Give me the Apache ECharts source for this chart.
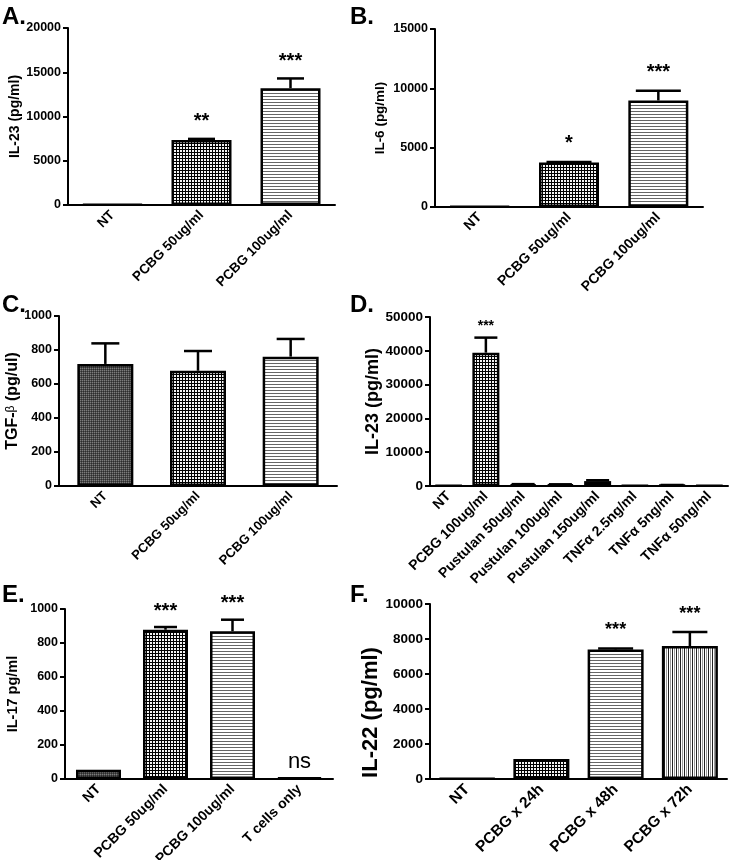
<!DOCTYPE html>
<html lang="en">
<head>
<meta charset="UTF-8">
<title>Cytokine panels A-F</title>
<style>
  * { margin: 0; padding: 0; box-sizing: border-box; }
  body { background: #fff; }
  #chart { width: 730px; height: 860px; }
</style>
</head>
<body>
<div id="chart"></div>
<script src="https://cdn.jsdelivr.net/npm/echarts@6/dist/echarts.min.js"></script>
<script>
// ---- data (mean, SEM, significance) ----
const catsA = ['NT', 'PCBG 50ug/ml', 'PCBG 100ug/ml'];
const valsA = [80, 7350, 13200];
const semA = [0, 120, 1100];
const starsA = ['', '**', '***'];

const catsB = ['NT', 'PCBG 50ug/ml', 'PCBG 100ug/ml'];
const valsB = [60, 3750, 8980];
const semB = [0, 50, 820];
const starsB = ['', '*', '***'];

const catsC = ['NT', 'PCBG 50ug/ml', 'PCBG 100ug/ml'];
const valsC = [718, 678, 761];
const semC = [121, 116, 104];
const starsC = ['', '', ''];

const catsD = ['NT', 'PCBG 100ug/ml', 'Pustulan 50ug/ml', 'Pustulan 100ug/ml',
  'Pustulan 150ug/ml', 'TNFα 2.5ng/ml', 'TNFα 5ng/ml', 'TNFα 50ng/ml'];
const valsD = [100, 39450, 500, 450, 1450, 100, 250, 100];
const semD = [0, 4450, 50, 50, 250, 0, 50, 0];
const starsD = ['', '***', '', '', '', '', '', ''];

const catsE = ['NT', 'PCBG 50ug/ml', 'PCBG 100ug/ml', 'T cells only'];
const valsE = [55, 878, 869, 10];
const semE = [0, 16, 68, 0];
const starsE = ['', '***', '***', 'ns'];

const catsF = ['NT', 'PCBG x 24h', 'PCBG x 48h', 'PCBG x 72h'];
const valsF = [30, 1150, 7400, 7600];
const semF = [0, 0, 60, 800];
const starsF = ['', '', '***', '***'];

// fill style per bar (keys into the pattern table below)
const fillA = ['dark', 'checker', 'hlines'];
const fillB = ['dark', 'checker', 'hlines'];
const fillC = ['dark', 'checker', 'hlines'];
const fillD = ['dark', 'checker', 'dark', 'dark', 'diag', 'dark', 'dark', 'dark'];
const fillE = ['dark', 'checker', 'hlines', 'dark'];
const fillF = ['dark', 'checker', 'hlines', 'vlines'];

const FONT = '"Liberation Sans", Arial, sans-serif';

function makePattern(w, h, paint) {
  const c = document.createElement('canvas');
  c.width = w; c.height = h;
  const g = c.getContext('2d');
  g.fillStyle = '#fff';
  g.fillRect(0, 0, w, h);
  paint(g);
  return { image: c, repeat: 'repeat' };
}

const patterns = {
  dark: makePattern(2, 2, g => {
    g.fillStyle = '#4a4a4a'; g.fillRect(0, 0, 2, 2);
    g.fillStyle = '#7c7c7c'; g.fillRect(0, 0, 1, 1);
    g.fillStyle = '#2c2c2c'; g.fillRect(1, 1, 1, 1);
  }),
  checker: makePattern(3, 3, g => {
    g.fillStyle = '#000';
    g.fillRect(0, 0, 3, 3);
    g.fillStyle = '#f4f4f4';
    g.fillRect(0, 0, 2, 2);
  }),
  hlines: makePattern(4, 3, g => {
    g.fillStyle = '#666'; g.fillRect(0, 0, 4, 1);
  }),
  vlines: makePattern(4, 4, g => {
    g.fillStyle = '#222'; g.fillRect(0, 0, 1, 4);
    g.fillStyle = '#999'; g.fillRect(2, 0, 1, 4);
  }),
  diag: makePattern(4, 4, g => {
    g.fillStyle = '#222';
    g.fillRect(0, 3, 1, 1); g.fillRect(1, 2, 1, 1);
    g.fillRect(2, 1, 1, 1); g.fillRect(3, 0, 1, 1);
  })
};

// layout: rect = [left, top, width, height] of each plot area
const panels = [
  { letter: 'A.', lx: 2, ly: 5, cats: catsA, vals: valsA, sem: semA, stars: starsA, fill: fillA,
    yName: 'IL-23 (pg/ml)', max: 20000, step: 5000, rect: [68, 28, 267, 177],
    barW: 60, cap: 27, tickFont: 12.5, xFont: 13.5, nameFont: 14, nameGap: 46, starFont: 20, lift: 7 },
  { letter: 'B.', lx: 350, ly: 5, cats: catsB, vals: valsB, sem: semB, stars: starsB, fill: fillB,
    yName: 'IL-6 (pg/ml)', max: 15000, step: 5000, rect: [435, 29, 268, 178],
    barW: 60, cap: 45, tickFont: 12.5, xFont: 14, nameFont: 13.5, nameGap: 48, starFont: 20, lift: 8 },
  { letter: 'C.', lx: 2, ly: 293, cats: catsC, vals: valsC, sem: semC, stars: starsC, fill: fillC,
    yName: 'TGF-{b|β} (pg/ul)', max: 1000, step: 200, rect: [59, 316, 278, 170],
    barW: 56, cap: 28, tickFont: 12.5, xFont: 13, nameFont: 16, nameGap: 36, starFont: 20, lift: 8 },
  { letter: 'D.', lx: 350, ly: 293, cats: catsD, vals: valsD, sem: semD, stars: starsD, fill: fillD,
    yName: 'IL-23 (pg/ml)', max: 50000, step: 10000, rect: [430, 317, 298, 169],
    barW: 27, cap: 23, tickFont: 13.5, xFont: 14, nameFont: 18, nameGap: 46, starFont: 14, lift: 4 },
  { letter: 'E.', lx: 2, ly: 583, cats: catsE, vals: valsE, sem: semE, stars: starsE, fill: fillE,
    yName: 'IL-17 pg/ml', max: 1000, step: 200, rect: [65, 609, 268, 170],
    barW: 45, cap: 23, tickFont: 12.5, xFont: 14, nameFont: 14.5, nameGap: 45, starFont: 20, lift: 6 },
  { letter: 'F.', lx: 350, ly: 583, cats: catsF, vals: valsF, sem: semF, stars: starsF, fill: fillF,
    yName: 'IL-22 (pg/ml)', max: 10000, step: 2000, rect: [430, 604, 297, 175],
    barW: 56, cap: 35, tickFont: 13.5, xFont: 15.5, nameFont: 22, nameGap: 47, namePad: [0, 42, 0, 0],
    starFont: 18, lift: 9 }
];

const grid = [], xAxis = [], yAxis = [], series = [], graphic = [];

panels.forEach((p, i) => {
  grid.push({ left: p.rect[0], top: p.rect[1], width: p.rect[2], height: p.rect[3],
    outerBoundsMode: 'none' });

  xAxis.push({
    type: 'category', gridIndex: i, data: p.cats,
    axisLine: { lineStyle: { color: '#000', width: 2 } },
    axisTick: { alignWithLabel: true, length: 5, lineStyle: { color: '#000', width: 2 } },
    axisLabel: { rotate: 45, interval: 0, margin: 8, color: '#000', fontWeight: 'bold',
      fontSize: p.xFont, fontFamily: FONT }
  });

  yAxis.push({
    type: 'value', gridIndex: i, min: 0, max: p.max, interval: p.step,
    name: p.yName, nameLocation: 'middle', nameRotate: 90, nameGap: p.nameGap,
    nameTextStyle: { color: '#000', fontWeight: 'bold', fontSize: p.nameFont, fontFamily: FONT,
      padding: p.namePad || 0,
      rich: { b: { fontSize: p.nameFont - 4, fontWeight: 'normal', fontFamily: FONT, color: '#000', padding: [0, 0, 4, 0] } } },
    splitLine: { show: false },
    axisLine: { show: true, lineStyle: { color: '#000', width: 2 } },
    axisTick: { show: true, length: 5, lineStyle: { color: '#000', width: 2 } },
    axisLabel: { margin: 7, color: '#000', fontWeight: 'bold', fontSize: p.tickFont, fontFamily: FONT,
      formatter: v => String(v) }
  });

  series.push({
    type: 'bar', xAxisIndex: i, yAxisIndex: i, barWidth: p.barW,
    data: p.vals.map((v, k) => ({ value: v, itemStyle: { color: patterns[p.fill[k]] } })),
    itemStyle: { borderColor: '#000', borderWidth: 2.5 },
    emphasis: { disabled: true }
  });

  series.push({
    type: 'custom', xAxisIndex: i, yAxisIndex: i, z: 3,
    data: p.vals.map((v, k) => [k, v, p.sem[k]]),
    renderItem: (params, api) => {
      const k = params.dataIndex;
      const v = api.value(1), e = api.value(2);
      const base = api.coord([api.value(0), v]);
      const top = api.coord([api.value(0), v + e]);
      const half = p.cap / 2;
      const children = [];
      if (e > 0) {
        children.push({ type: 'line', shape: { x1: base[0], y1: base[1], x2: top[0], y2: top[1] },
          style: { stroke: '#000', lineWidth: 2.5 } });
        children.push({ type: 'line', shape: { x1: top[0] - half, y1: top[1], x2: top[0] + half, y2: top[1] },
          style: { stroke: '#000', lineWidth: 2.5 } });
      }
      const s = p.stars[k];
      if (s) {
        const ns = s === 'ns';
        children.push({ type: 'text', style: {
          text: s, x: top[0], y: top[1] - (ns ? 4 : p.lift),
          align: 'center', verticalAlign: 'bottom', fill: '#000',
          font: (ns ? 'normal 22px ' : 'bold ' + p.starFont + 'px ') + FONT } });
      }
      return { type: 'group', children };
    }
  });

  graphic.push({ type: 'text', left: p.lx, top: p.ly,
    style: { text: p.letter, fill: '#000', font: 'bold 24px ' + FONT } });
});

const chart = echarts.init(document.getElementById('chart'));
chart.setOption({
  backgroundColor: '#fff',
  animation: false,
  grid, xAxis, yAxis, series, graphic
});
window.addEventListener('resize', () => chart.resize());
</script>
</body>
</html>
